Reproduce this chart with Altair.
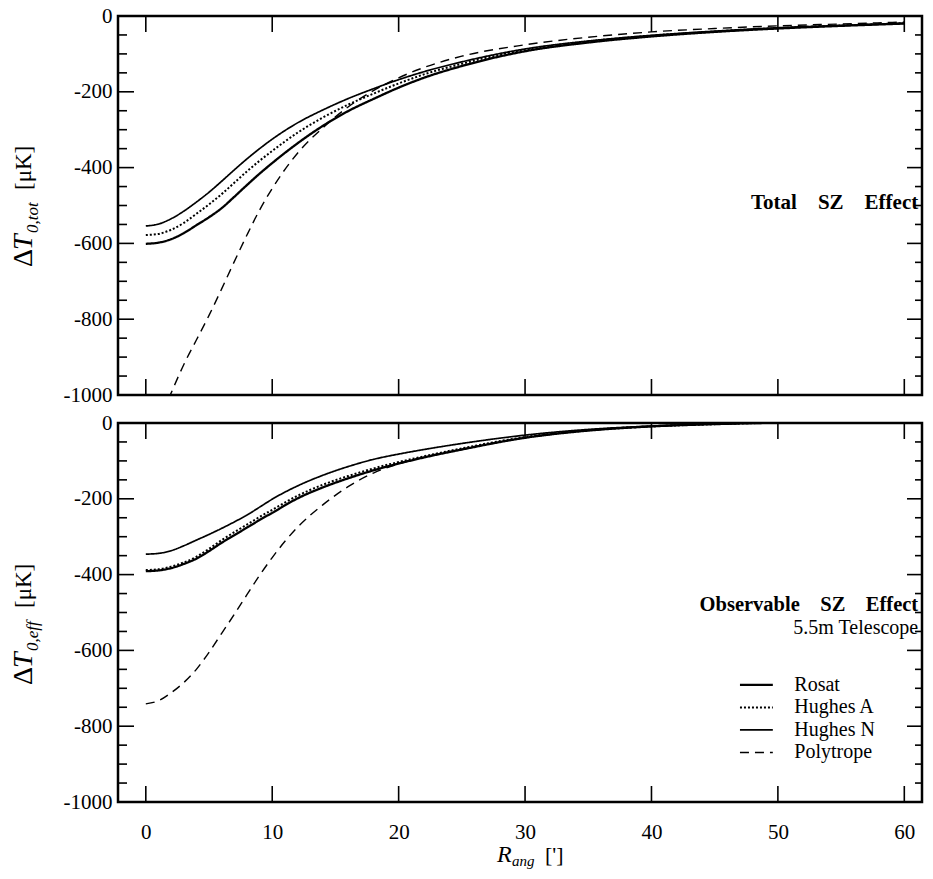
import altair as alt
import pandas as pd

FONT = "Liberation Serif"
W, H = 804, 379
XDOM = [-2.2, 61.4]
YDOM = [-1000, 0]

series = ["Rosat", "Hughes A", "Hughes N", "Polytrope"]
r_ang = [0, 1, 2, 3, 4, 5, 6, 7, 8, 9, 10, 12, 14, 16, 18, 20, 22, 25, 30, 35, 40, 45, 50, 55, 60]

# Total SZ effect (top panel)
tot_rosat = [-601, -598, -589, -573, -552, -531, -507, -477, -446, -416, -388, -336, -290, -251, -219, -189, -163, -132, -93, -70, -54, -42, -33, -26, -20]
tot_hughes_a = [-578, -575, -564, -546, -522, -497, -470, -440, -410, -382, -356, -308, -268, -234, -205, -178, -154, -126, -89, -67, -52, -41, -32, -25, -19]
tot_hughes_n = [-554, -549, -535, -515, -491, -465, -436, -406, -377, -350, -325, -282, -248, -218, -192, -168, -147, -121, -87, -66, -51, -40, -31, -25, -19]
tot_poly = [-1110, -1075, -995, -920, -855, -790, -720, -648, -578, -512, -455, -362, -295, -240, -197, -163, -136, -106, -76, -56, -42, -33, -26, -21, -16]

# Observable SZ effect, 5.5m telescope (bottom panel)
eff_rosat = [-391, -389, -383, -372, -358, -338, -316, -296, -276, -256, -237, -199, -170, -146, -125, -107, -91, -70, -39, -20, -9, -3, 1, 4, 6]
eff_hughes_a = [-388, -386, -379, -368, -353, -332, -309, -288, -268, -248, -229, -192, -163, -140, -120, -103, -88, -67, -37, -19, -9, -3, 1, 4, 6]
eff_hughes_n = [-346, -344, -337, -324, -309, -294, -278, -261, -243, -222, -201, -166, -138, -115, -96, -82, -70, -54, -32, -17, -8, -2, 1, 4, 6]
eff_poly = [-741, -733, -712, -685, -650, -605, -555, -505, -453, -402, -355, -275, -216, -168, -132, -108, -90, -69, -39, -20, -9, -3, 1, 4, 6]

x_major = [0, 10, 20, 30, 40, 50, 60]
y_major = [-1000, -800, -600, -400, -200, 0]
y_minor = [v for v in range(-950, 0, 50) if v % 200 != 0]

dash_range = [[1, 0], [2, 2], [1, 0], [9, 6]]
width_range = [2.3, 1.4, 1.3, 1.4]

# legend placement (data units of the lower panel)
LEG_X0, LEG_X1, LEG_TX = 47.0, 49.6, 51.3
LEG_Y0, LEG_DY = -691, 59.4


def make_df(vals):
    rows = []
    for s, arr in zip(series, vals):
        for x, v in zip(r_ang, arr):
            rows.append({"r": x, "dT": v, "series": s})
    return pd.DataFrame(rows)


xscale = alt.Scale(domain=XDOM, nice=False, zero=False)
yscale = alt.Scale(domain=YDOM, nice=False, zero=False)
dash_scale = alt.Scale(domain=series, range=dash_range)
width_scale = alt.Scale(domain=series, range=width_range)

YAXIS = alt.Axis(values=y_major, grid=False, ticks=False, domain=False, title=None,
                 labelFont=FONT, labelFontSize=21, labelColor="black", labelPadding=6,
                 labelExpr="'' + datum.value")
XAXIS = alt.Axis(values=x_major, grid=False, ticks=False, domain=False, title=None,
                 labelFont=FONT, labelFontSize=21, labelColor="black",
                 labelPadding=19, format="d")


def text_piece(txt, x, y, size, style="normal", weight="normal", angle=0):
    kw = dict(text=txt, font=FONT, fontSize=size, fontStyle=style, fontWeight=weight,
              align="left", baseline="alphabetic", color="black")
    if angle:
        kw["angle"] = angle
    return alt.Chart(pd.DataFrame({"a": [0]})).mark_text(**kw).encode(
        x=alt.value(x), y=alt.value(y))


def panel(vals, bottom, notes, sub, ytitle_y):
    df = make_df(vals)
    xaxis = XAXIS if bottom else None
    lines = alt.Chart(df).mark_line(color="black", clip=True, interpolate="monotone").encode(
        x=alt.X("r:Q", scale=xscale, axis=xaxis),
        y=alt.Y("dT:Q", scale=yscale, axis=YAXIS),
        strokeDash=alt.StrokeDash("series:N", scale=dash_scale, legend=None),
        strokeWidth=alt.StrokeWidth("series:N", scale=width_scale, legend=None),
        detail="series:N",
    )
    ymaj = pd.DataFrame({"v": y_major})
    ymin = pd.DataFrame({"v": y_minor})
    xmaj = pd.DataFrame({"v": x_major})
    ticks = [
        alt.Chart(ymaj).mark_rule(color="black", strokeWidth=1.6).encode(
            y=alt.Y("v:Q", scale=yscale, axis=YAXIS), x=alt.value(0), x2=alt.value(16)),
        alt.Chart(ymin).mark_rule(color="black", strokeWidth=1.6).encode(
            y=alt.Y("v:Q", scale=yscale, axis=YAXIS), x=alt.value(0), x2=alt.value(9)),
        alt.Chart(ymaj).mark_rule(color="black", strokeWidth=1.6).encode(
            y=alt.Y("v:Q", scale=yscale, axis=YAXIS), x=alt.value(W - 15), x2=alt.value(W)),
        alt.Chart(ymin).mark_rule(color="black", strokeWidth=1.6).encode(
            y=alt.Y("v:Q", scale=yscale, axis=YAXIS), x=alt.value(W - 7), x2=alt.value(W)),
        alt.Chart(xmaj).mark_rule(color="black", strokeWidth=1.6).encode(
            x=alt.X("v:Q", scale=xscale, axis=xaxis), y=alt.value(0), y2=alt.value(16)),
        alt.Chart(xmaj).mark_rule(color="black", strokeWidth=1.6).encode(
            x=alt.X("v:Q", scale=xscale, axis=xaxis), y=alt.value(H - 16), y2=alt.value(H)),
    ]
    note_layers = []
    for (txt, xv, yv, weight, size) in notes:
        note_layers.append(
            alt.Chart(pd.DataFrame({"r": [xv], "dT": [yv], "t": [txt]})).mark_text(
                align="right", baseline="alphabetic", font=FONT, fontSize=size,
                fontWeight=weight, color="black").encode(
                x=alt.X("r:Q", scale=xscale, axis=xaxis),
                y=alt.Y("dT:Q", scale=yscale, axis=YAXIS), text="t:N"))
    y0 = ytitle_y
    title_layers = [
        text_piece("Δ", -86, y0, 28, angle=270),
        text_piece("T", -86, y0 - 17, 28, style="italic", angle=270),
        text_piece(sub, -80, y0 - 34, 17, style="italic", angle=270),
        text_piece("[μK]", -87, y0 - 77, 23, angle=270),
    ]
    extra = []
    if bottom:
        leg_df = pd.DataFrame({"series": series, "i": list(range(len(series)))})
        leg_base = alt.Chart(leg_df).transform_calculate(
            ly=f"{LEG_Y0} - datum.i * {LEG_DY}", lx0=f"{LEG_X0}", lx1=f"{LEG_X1}", lt=f"{LEG_TX}")
        leg_lines = leg_base.mark_rule(color="black").encode(
            x=alt.X("lx0:Q", scale=xscale, axis=xaxis), x2="lx1:Q",
            y=alt.Y("ly:Q", scale=yscale, axis=YAXIS),
            strokeDash=alt.StrokeDash("series:N", scale=dash_scale, legend=None),
            strokeWidth=alt.StrokeWidth("series:N", scale=width_scale, legend=None))
        leg_text = leg_base.mark_text(align="left", baseline="middle", font=FONT,
                                      fontSize=20, color="black").encode(
            x=alt.X("lt:Q", scale=xscale, axis=xaxis),
            y=alt.Y("ly:Q", scale=yscale, axis=YAXIS), text="series:N")
        extra = [
            leg_lines, leg_text,
            text_piece("R", 379, H + 60, 24, style="italic"),
            text_piece("ang", 394, H + 64, 15, style="italic"),
            text_piece("[']", 427, H + 60, 22),
        ]
    return alt.layer(lines, *ticks, *note_layers, *title_layers, *extra).properties(
        width=W, height=H)


top = panel([tot_rosat, tot_hughes_a, tot_hughes_n, tot_poly], False,
            [("Total\u2002\u2002SZ\u2002\u2002Effect", 61.1, -509, "bold", 21)], "0,tot", 251)
bot = panel([eff_rosat, eff_hughes_a, eff_hughes_n, eff_poly], True,
            [("Observable\u2002\u2002SZ\u2002\u2002Effect", 61.1, -496, "bold", 20.5),
             ("5.5m Telescope", 61.1, -557, "normal", 20)], "0,eff", 262)

chart = alt.vconcat(top, bot, spacing=3).properties(
    padding={"left": 0, "top": -5, "right": 0, "bottom": 0},
    background="white",
).configure_view(stroke="black", strokeWidth=2.5)

chart.save("out.html", embed_options={"renderer": "svg", "actions": False})
